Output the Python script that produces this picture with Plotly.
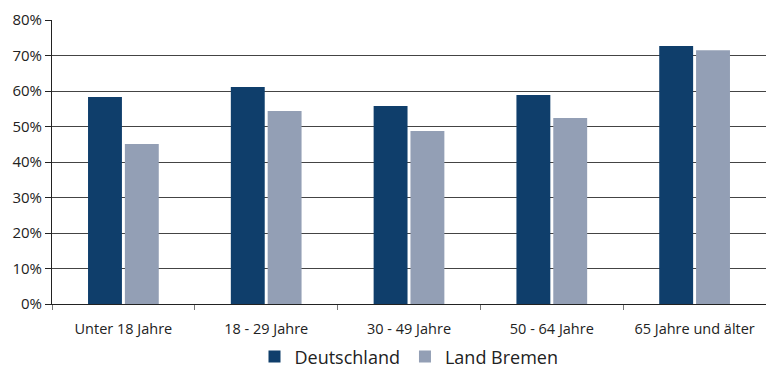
import plotly.graph_objects as go

categories = ["Unter 18 Jahre", "18 - 29 Jahre", "30 - 49 Jahre", "50 - 64 Jahre", "65 Jahre und älter"]
deutschland = [58.3, 61.1, 55.8, 58.9, 72.7]
land_bremen = [45.1, 54.4, 48.7, 52.4, 71.5]
y_ticks = [0, 10, 20, 30, 40, 50, 60, 70, 80]
y_tick_labels = [f"{v}%" for v in y_ticks]

fig = go.Figure()
fig.add_trace(go.Bar(name="Deutschland", x=categories, y=deutschland,
                     marker=dict(color="#0f3e6b", line=dict(width=0))))
fig.add_trace(go.Bar(name="Land Bremen", x=categories, y=land_bremen,
                     marker=dict(color="#939fb5", line=dict(width=0))))

fig.update_layout(
    width=766, height=369,
    margin=dict(l=52, r=0, t=20, b=65, autoexpand=False),
    paper_bgcolor="white", plot_bgcolor="white",
    barmode="group", bargap=0.484, bargroupgap=0.08,
    font=dict(family="Open Sans", color="#222222", size=13),
    showlegend=True,
    legend=dict(orientation="h", x=0.5, xanchor="center", xref="paper",
                y=0.033, yanchor="middle", yref="container",
                font=dict(size=18, color="#222222"),
                itemsizing="constant", itemwidth=30, traceorder="normal"),
)
fig.update_xaxes(
    showline=True, linecolor="#222222", linewidth=1,
    ticks="outside", tickson="boundaries", ticklen=5, tickcolor="#777777",
    ticklabelstandoff=12,
    tickfont=dict(size=14.5, color="#222222"), showgrid=False,
)
fig.update_yaxes(
    range=[0, 80], tickvals=y_ticks, ticktext=y_tick_labels,
    showline=True, linecolor="#222222", linewidth=1,
    ticks="outside", ticklen=6, tickcolor="#222222",
    showgrid=True, gridcolor="#444444", gridwidth=1,
    tickfont=dict(size=15, color="#222222"), zeroline=False,
)

fig.write_html("out.html")
